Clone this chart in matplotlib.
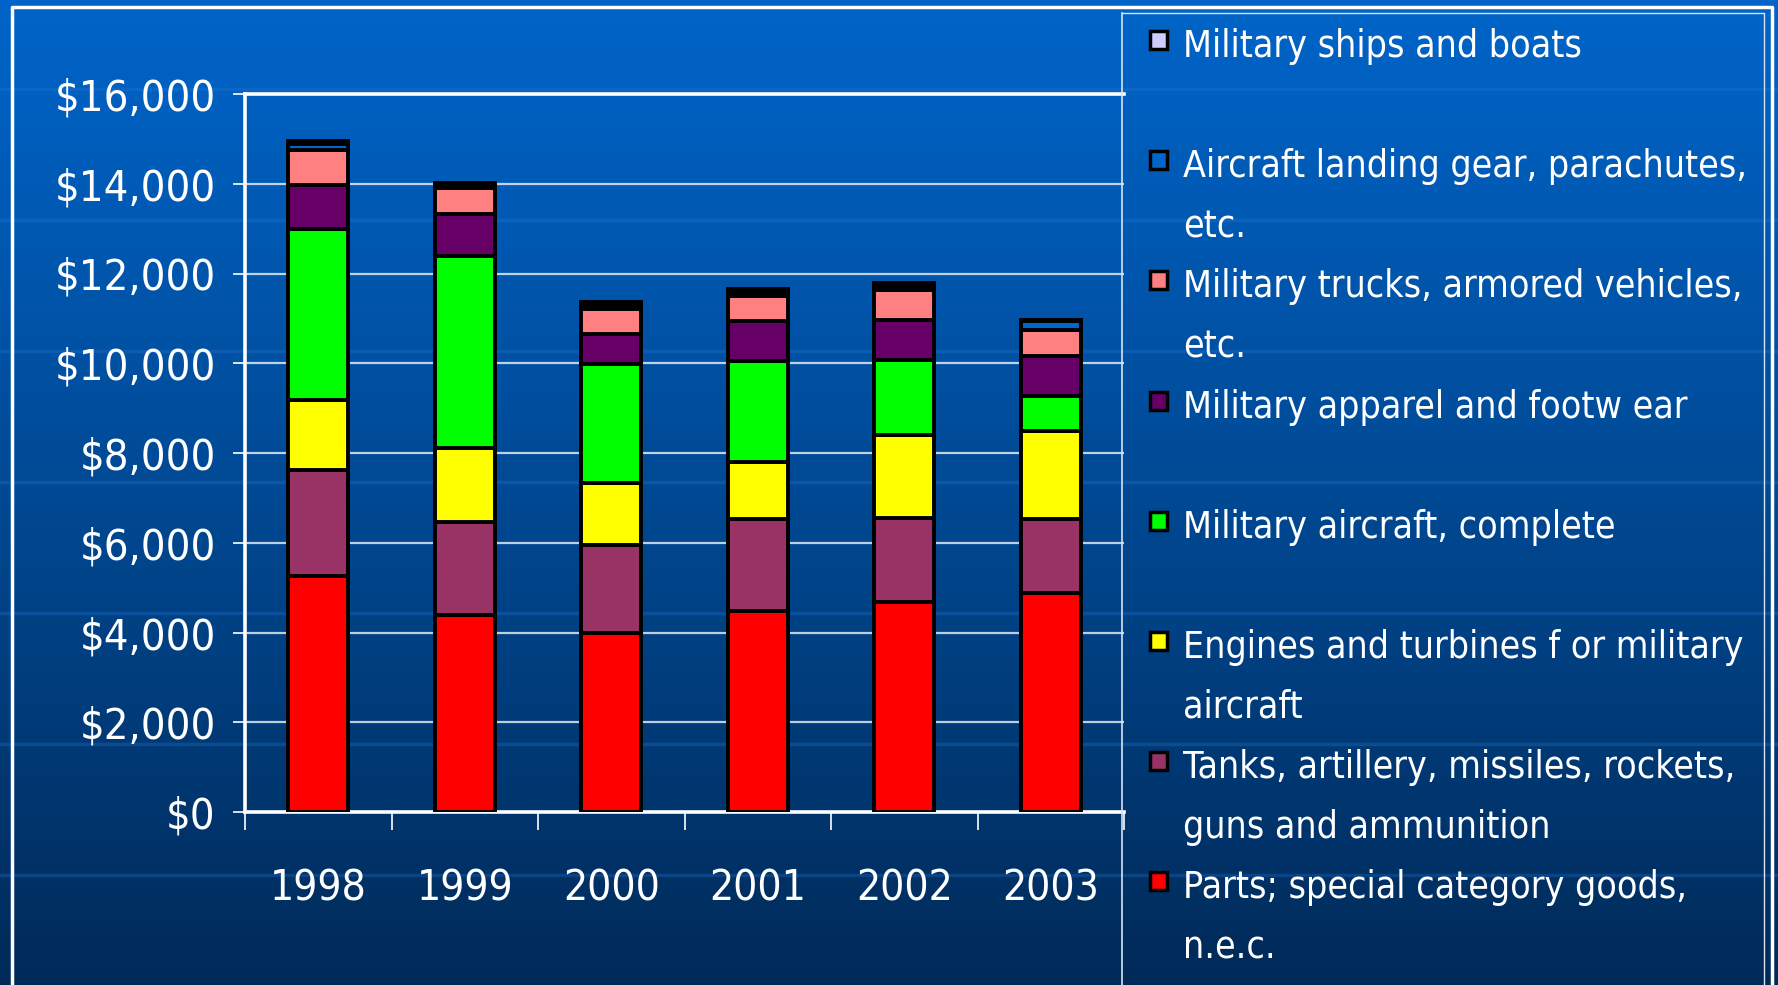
import numpy as np
import matplotlib.pyplot as plt
from matplotlib.patches import Rectangle
from matplotlib.lines import Line2D
from matplotlib import font_manager as fm
from matplotlib.textpath import TextPath, TextToPath

# data (millions of dollars)
years = ['1998', '1999', '2000', '2001', '2002', '2003']
parts = [5250, 4400, 4000, 4470, 4680, 4870]
tanks = [2370, 2060, 1960, 2055, 1870, 1660]
engines = [1560, 1650, 1380, 1275, 1860, 1970]
aircraft = [3810, 4290, 2640, 2260, 1670, 770]
apparel = [990, 925, 680, 880, 890, 890]
trucks = [770, 585, 560, 550, 660, 590]
landing_gear = [140, 60, 80, 90, 90, 190]
ships = [70, 50, 70, 70, 70, 30]

series = [parts, tanks, engines, aircraft, apparel, trucks, landing_gear, ships]
colors = ['#FF0000', '#993366', '#FFFF00', '#00FF00', '#660066', '#FF8080', '#0066CC', '#CCCCFF']
labels = ['Parts; special category goods,\nn.e.c.',
          'Tanks, artillery, missiles, rockets,\nguns and ammunition',
          'Engines and turbines f or military\naircraft',
          'Military aircraft, complete',
          'Military apparel and footw ear',
          'Military trucks, armored vehicles,\netc.',
          'Aircraft landing gear, parachutes,\netc.',
          'Military ships and boats']


def regular(f):
    return f.style == 'normal' and f.weight in (400, 'normal', 'regular')


# pick the narrowest Arial-like font that is installed
font_file = None
for want in ['Liberation Sans Narrow', 'Arial Narrow']:
    for f in fm.fontManager.ttflist:
        if f.name == want and regular(f):
            font_file = f.fname
            break
    if font_file:
        break
if font_file is None:
    for st in ['extra-condensed', 'condensed', 'semi-condensed']:
        for fam in ['Liberation Sans', 'Roboto', 'Noto Sans', 'Open Sans', 'Lato', 'Inter', 'DejaVu Sans']:
            for f in fm.fontManager.ttflist:
                if f.name == fam and f.stretch == st and regular(f):
                    font_file = f.fname
                    break
            if font_file:
                break
        if font_file:
            break


def prop(size):
    if font_file:
        return fm.FontProperties(fname=font_file, size=size)
    return fm.FontProperties(family='Liberation Sans', size=size)


def fit_size(s, width_px, cap_px, cap_char):
    w, h, d = TextToPath().get_text_width_height_descent(s, prop(10), ismath=False)
    by_w = 10 * width_px / (w * 100 / 72)
    ch = TextPath((0, 0), cap_char, prop=prop(10)).get_extents().height
    by_h = 10 * cap_px / (ch * 100 / 72)
    return min(by_w, by_h)


y_size = fit_size('$16,000', 161, 42, '0')
x_size = fit_size('1998', 97, 40, '0')
leg_size = fit_size('Aircraft landing gear, parachutes,', 566, 34, 'M')

W, H = 1778, 985
fig = plt.figure(figsize=(W / 100, H / 100), dpi=100)

# background gradient
bg = fig.add_axes([0, 0, 1, 1], zorder=-10)
grad = np.linspace(0, 1, 256).reshape(-1, 1)
top = np.array([0x00, 0x64, 0xC8]) / 255
bot = np.array([0x00, 0x2A, 0x58]) / 255
img = top + (bot - top) * grad[..., None] ** 1.1
bg.imshow(img.reshape(256, 1, 3), aspect='auto', extent=[0, 1, 0, 1])
for yy in [89, 220, 351, 482, 613, 744, 875]:
    bg.axhline(1 - yy / H, color='#2A7AD8', lw=2.5, alpha=0.28)
bg.set_xlim(0, 1)
bg.set_ylim(0, 1)
bg.axis('off')


def fline(xs, ys, **kw):
    fig.add_artist(Line2D([x / W for x in xs], [1 - y / H for y in ys],
                          transform=fig.transFigure, **kw))


# outer frame and legend box
fline([12, 12, 1772, 1772], [985, 7, 7, 985], color='white', lw=2.5)
fline([1122, 1122], [13, 985], color='#D8E4F4', lw=1.2)
fline([1122, 1764, 1764], [13, 13, 985], color='#D8E4F4', lw=1.0)

ax = fig.add_axes([245 / W, 1 - 812 / H, (1124 - 245) / W, (812 - 94) / H])
ax.set_facecolor('none')
x = np.arange(len(years))
bottom = np.zeros(len(years))
for vals, c in zip(series, colors):
    ax.bar(x, vals, width=0.41, bottom=bottom, color=c, edgecolor='black',
           linewidth=2.8, zorder=3)
    bottom += np.array(vals)

ax.set_xlim(-0.5, len(years) - 0.5)
ax.set_ylim(0, 16000)
ax.set_yticks(np.arange(0, 16001, 2000))
ax.set_yticklabels(['${:,}'.format(v) for v in range(0, 16001, 2000)])
ax.yaxis.grid(True, color='white', lw=1.6, alpha=0.75, zorder=0)
ax.set_xticks(x)
ax.set_xticklabels(years)
ax.set_xticks(np.arange(-0.5, len(years)), minor=True)
ax.tick_params(axis='x', which='major', length=0, pad=40, colors='white')
ax.tick_params(axis='x', which='minor', length=13, width=1.2, color='white', direction='out')
ax.tick_params(axis='y', length=9, width=1.2, pad=12, colors='white')
for t in ax.get_yticklabels():
    t.set_fontproperties(prop(y_size))
for t in ax.get_xticklabels():
    t.set_fontproperties(prop(x_size))
for side in ['left', 'top', 'bottom']:
    ax.spines[side].set_color('white')
    ax.spines[side].set_linewidth(2.6)
ax.spines['right'].set_visible(False)

# legend, top to bottom, one text per line
for i, (lab, c) in enumerate(zip(labels[::-1], colors[::-1])):
    yc = 40 + i * 120.2
    fig.add_artist(Rectangle((1150 / W, 1 - (yc + 9) / H), 17 / W, 18 / H,
                             transform=fig.transFigure, facecolor=c,
                             edgecolor='black', linewidth=2.5))
    for k, line in enumerate(lab.split('\n')):
        fig.text(1183 / W, 1 - (yc + 17 + k * 60) / H, line, color='white',
                 fontproperties=prop(leg_size), va='baseline', ha='left')

fig.savefig('out.png', dpi=100)
